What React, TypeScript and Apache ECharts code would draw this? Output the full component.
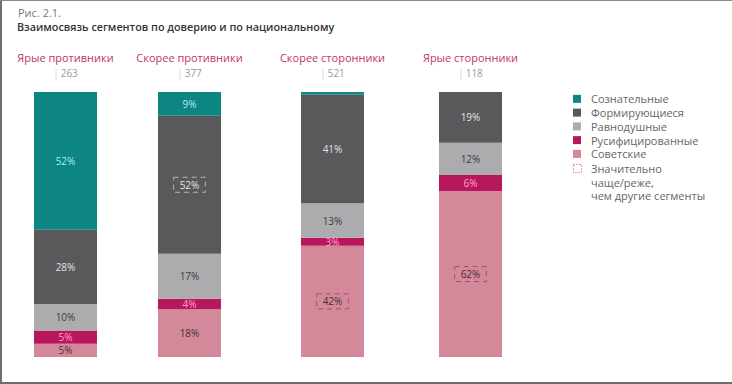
import React, { useEffect, useRef } from "react";
import * as echarts from "echarts";

const columns = ["Ярые противники", "Скорее противники", "Скорее сторонники", "Ярые сторонники"];
const counts = ["263", "377", "521", "118"];
const segments = ["Сознательные", "Формирующиеся", "Равнодушные", "Русифицированные", "Советские"];
// values per segment, per column
const soznatelnye = [52, 9, 1, 0];
const formiruyushchiesya = [28, 52, 41, 19];
const ravnodushnye = [10, 17, 13, 12];
const rusifitsirovannye = [5, 4, 3, 6];
const sovetskie = [5, 18, 42, 62];
// highlighted cells: [segmentIndex, columnIndex]
const highlighted: [number, number][] = [[1, 1], [4, 2], [4, 3]];

const segValues = [soznatelnye, formiruyushchiesya, ravnodushnye, rusifitsirovannye, sovetskie];
const segColors = ["#0d8583", "#59595b", "#acacaf", "#b7175d", "#d4899a"];
const labelColors = ["#a9eeec", "#e2e2e2", "#3b3b3d", "#ffa0cc", "#4b2d37"];
const boxColors = ["#a9eeec", "#b5b5b5", "#3b3b3d", "#ffa0cc", "#b5466a"];

const barLefts = [34, 158, 301, 439];
const barWidth = 63;
const font = "'Open Sans', sans-serif";

export default function App() {
  const ref = useRef<HTMLDivElement>(null);
  useEffect(() => {
    if (!ref.current) return;
    const chart = echarts.init(ref.current, undefined, { renderer: "svg" });
    const grids = barLefts.map((l) => ({ left: l, width: barWidth, top: 92, height: 265 }));
    const xAxes = columns.map((c, i) => ({
      type: "category",
      gridIndex: i,
      position: "top",
      data: [c],
      axisLine: { show: false },
      axisTick: { show: false },
      axisLabel: {
        interval: 0,
        margin: 11,
        formatter: () => `{t|${c}}\n{s||}{n|${counts[i]}}`,
        rich: {
          t: { color: "#c2346b", fontSize: 11, lineHeight: 16, fontFamily: font },
          s: { color: "#cfcfcf", fontSize: 10, lineHeight: 16, fontFamily: font, padding: [0, 2, 0, 0] },
          n: { color: "#9a9a9a", fontSize: 10, lineHeight: 16, fontFamily: font },
        },
      },
    }));
    const yAxes = columns.map((_, i) => ({
      type: "value",
      gridIndex: i,
      min: 0,
      max: segValues.reduce((a, s) => a + s[i], 0),
      show: false,
    }));
    const series: any[] = [];
    for (let col = 0; col < columns.length; col++) {
      for (let s = segments.length - 1; s >= 0; s--) {
        const v = segValues[s][col];
        const hl = highlighted.some(([a, b]) => a === s && b === col);
        series.push({
          type: "bar",
          name: segments[s],
          xAxisIndex: col,
          yAxisIndex: col,
          stack: "c" + col,
          barWidth: "100%",
          itemStyle: { color: segColors[s] },
          data: [
            {
              value: v,
              label: {
                show: v >= 2,
                position: "inside",
                formatter: `${v}%`,
                color: labelColors[s],
                fontSize: 10,
                fontFamily: font,
                ...(hl
                  ? {
                      borderType: [5, 4],
                      borderWidth: 1,
                      borderColor: boxColors[s],
                      padding: [3, 6, 2, 6],
                    }
                  : {}),
              },
            },
          ],
        });
      }
    }
    chart.setOption({
      animation: false,
      grid: grids,
      xAxis: xAxes,
      yAxis: yAxes,
      legend: {
        data: segments,
        orient: "vertical",
        left: 573,
        top: 92,
        padding: 0,
        icon: "rect",
        itemWidth: 8,
        itemHeight: 8,
        itemGap: 0,
        selectedMode: false,
        textStyle: { color: "#666", fontSize: 11, fontFamily: font, lineHeight: 13.75, padding: [0, 0, 0, 5] },
      },
      graphic: [
        { type: "rect", shape: { x: 0, y: 0, width: 2, height: 384 }, style: { fill: "#6e6e6e" } },
        { type: "rect", shape: { x: 0, y: 0, width: 732, height: 1 }, style: { fill: "#8a8a8a" } },
        { type: "rect", shape: { x: 0, y: 382, width: 732, height: 2 }, style: { fill: "#6e6e6e" } },
        {
          type: "text",
          left: 18,
          top: 7,
          style: { text: "Рис. 2.1.", fill: "#777", fontSize: 11, fontFamily: font },
        },
        {
          type: "text",
          left: 17,
          top: 21,
          style: {
            text: "Взаимосвязь сегментов по доверию и по национальному",
            fill: "#333",
            fontSize: 10.8,
            fontWeight: 600,
            fontFamily: font,
          },
        },
        {
          type: "rect",
          shape: { x: 573.5, y: 164.5, width: 8, height: 8 },
          style: { fill: "none", stroke: "#c2346b", lineWidth: 1, lineDash: [1, 2] },
        },
        {
          type: "text",
          left: 591,
          top: 162,
          style: {
            text: "Значительно\nчаще/реже,\nчем другие сегменты",
            fill: "#666",
            fontSize: 11,
            lineHeight: 13.5,
            fontFamily: font,
          },
        },
      ],
      series,
    });
    return () => chart.dispose();
  }, []);
  return <div ref={ref} style={{ position: "fixed", left: 0, top: 0, width: 732, height: 384, background: "#fff" }} />;
}
